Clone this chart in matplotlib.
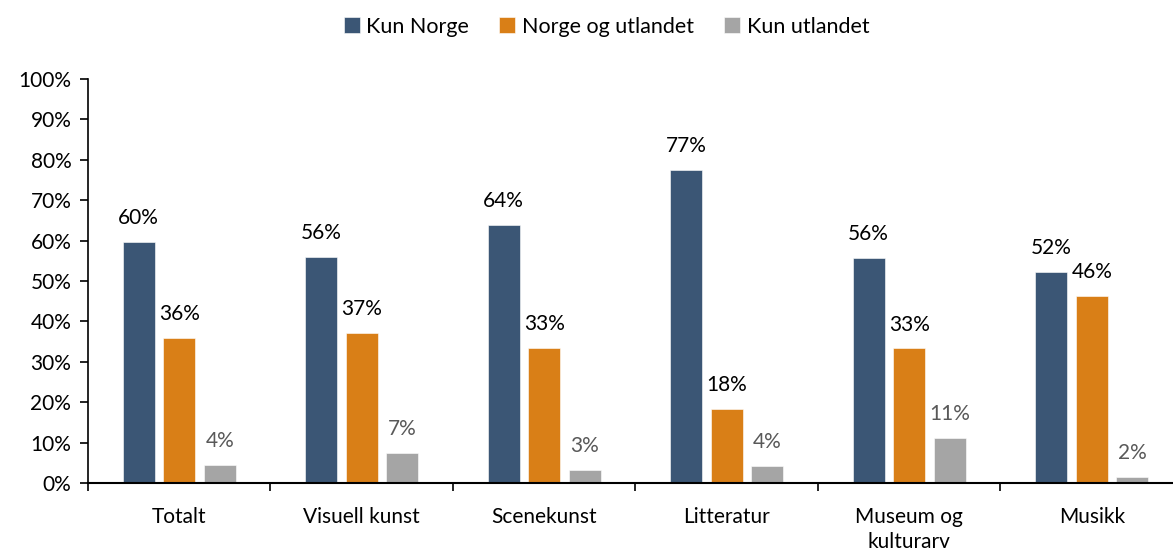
import matplotlib
matplotlib.use("Agg")
import matplotlib.pyplot as plt
import numpy as np

plt.rcParams['font.family'] = ['Lato', 'DejaVu Sans']

categories = ["Totalt", "Visuell kunst", "Scenekunst", "Litteratur", "Museum og\nkulturarv", "Musikk"]
series_names = ["Kun Norge", "Norge og utlandet", "Kun utlandet"]
kun_norge = [59.7, 55.9, 63.8, 77.4, 55.7, 52.3]
norge_og_utlandet = [36.0, 37.1, 33.4, 18.4, 33.3, 46.2]
kun_utlandet = [4.4, 7.4, 3.2, 4.2, 11.1, 1.5]

colors = ["#3B5675", "#D97F17", "#A5A5A5"]
label_colors = ["#000000", "#000000", "#595959"]

fig = plt.figure(figsize=(11.73, 5.52), dpi=100)
ax = fig.add_axes([0.075, 0.125, 0.9335, 0.732])

x = np.arange(len(categories))
width = 0.175
step = 0.222
all_series = [kun_norge, norge_og_utlandet, kun_utlandet]
for i, (name, vals) in enumerate(zip(series_names, all_series)):
    pos = x + (i - 1) * step
    ax.bar(pos, vals, width, color=colors[i], label=name, edgecolor='white', linewidth=0.4)
    for px, v in zip(pos, vals):
        ax.annotate(f"{round(v):.0f}%", (px, v), xytext=(0, 10), textcoords='offset points',
                    ha='center', va='bottom', fontsize=15, color=label_colors[i])

ax.set_xlim(-0.5, len(categories) - 0.5)
ax.set_ylim(0, 100)
ax.set_yticks(np.arange(0, 101, 10))
ax.set_yticklabels([f"{v}%" for v in range(0, 101, 10)], fontsize=15)

ax.set_xticks(x)
ax.set_xticklabels(categories, fontsize=15, linespacing=1.35)
ax.set_xticks(np.arange(-0.5, len(categories), 1), minor=True)
ax.tick_params(axis='x', which='major', length=0, pad=17)
ax.tick_params(axis='x', which='minor', length=6, width=1.2, direction='out')
ax.tick_params(axis='y', length=6, width=1.2, direction='out', pad=6)

for side in ['top', 'right']:
    ax.spines[side].set_visible(False)
ax.spines['left'].set_linewidth(1.2)
ax.spines['bottom'].set_linewidth(1.5)

fig.legend(loc='upper center', bbox_to_anchor=(0.517, 1.005), ncol=3, frameon=False,
           fontsize=15.5, handlelength=0.75, handleheight=0.75, handletextpad=0.3,
           columnspacing=1.4)

fig.savefig("out.png", dpi=100)
